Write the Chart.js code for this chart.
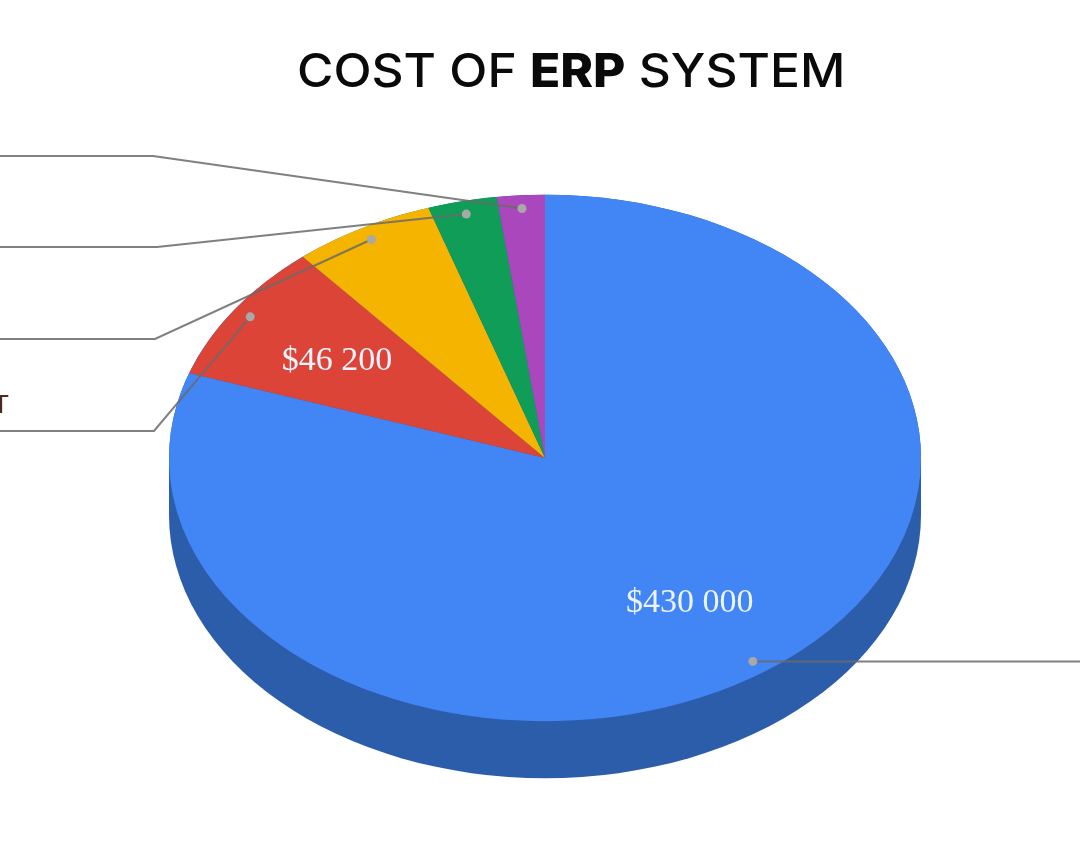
<!DOCTYPE html>
<html lang="en">

<head>
  <meta charset="UTF-8">
  <title>Cost of ERP system</title>
  <style>
    html, body { margin: 0; background: #fff; }
    #wrap { position: relative; width: 1080px; height: 863px; overflow: hidden; }
    #title {
      position: absolute; left: 297px; top: 41px; margin: 0;
      white-space: pre; transform: scaleX(1.08); transform-origin: left top;
      font: 500 46px Inter, sans-serif; line-height: 58px; color: #0a0a0a;
    }
    #title b { font-weight: 800; }
    canvas { position: absolute; left: 0; top: 0; }
  </style>
</head>

<body>
  <div id="wrap">
    <canvas id="pie" width="1080" height="863"></canvas>
    <h1 id="title">COST OF <b>ERP</b> SYSTEM</h1>
  </div>

  <script src="https://cdn.jsdelivr.net/npm/chart.js"></script>
  <script>
    // values, only the first two are printed there
    const costs = [430000, 46200, 32800, 15900, 11000];
    const valueLabels = ["$430 000", "$46 200", "", "", ""];
    const sliceColors = ["#4285f4", "#db4437", "#f4b400", "#0f9d58", "#ab47bc"];

    const tilt = 0.7;      // pie is squashed to look 3d
    const depth = 57;
    const sideColor = "#2c5dab";

    // where each leader line leaves the slice, in slice order
    const leaderEnds = [[1080, 661.5], [154, 431], [155, 339], [157, 247], [153, 156]];
    const leaderEdges = [1080, 0, 0, 0, 0];

    function sliceAnchor(arc, frac) {
      const p = arc.getProps(["x", "y", "startAngle", "endAngle", "outerRadius"], true);
      const mid = (p.startAngle + p.endAngle) / 2;
      return {
        x: p.x + Math.cos(mid) * p.outerRadius * frac,
        y: p.y + Math.sin(mid) * p.outerRadius * frac * tilt
      };
    }

    const tiltedPie = {
      id: "tiltedPie",
      beforeDatasetsDraw(chart) {
        const ctx = chart.ctx;
        const arcs = chart.getDatasetMeta(0).data;
        const cx = arcs[0].x, cy = arcs[0].y;
        ctx.save();
        ctx.translate(cx, cy);
        ctx.scale(1, tilt);
        ctx.translate(-cx, -cy);
        // side wall: lower half of the disc, pushed down
        const r = arcs[0].outerRadius;
        const d = depth / tilt;
        ctx.fillStyle = sideColor;
        ctx.beginPath();
        ctx.arc(cx, cy + d, r, 0, Math.PI);
        ctx.arc(cx, cy, r, Math.PI, 0);
        ctx.closePath();
        ctx.fill();
      },
      afterDatasetsDraw(chart) {
        const ctx = chart.ctx;
        ctx.restore();
        const arcs = chart.getDatasetMeta(0).data;

        arcs.forEach((arc, i) => {
          const dot = sliceAnchor(arc, 0.95);
          ctx.save();
          ctx.globalAlpha = 0.85;
          ctx.strokeStyle = "#6a6a6a";
          ctx.lineWidth = 2;
          ctx.beginPath();
          ctx.moveTo(leaderEdges[i], leaderEnds[i][1]);
          ctx.lineTo(leaderEnds[i][0], leaderEnds[i][1]);
          ctx.lineTo(dot.x, dot.y);
          ctx.stroke();
          ctx.globalAlpha = 1;
          ctx.fillStyle = "#a8a8a8";
          ctx.beginPath();
          ctx.arc(dot.x, dot.y, 4.5, 0, Math.PI * 2);
          ctx.fill();
          ctx.restore();
        });

        ctx.save();
        ctx.font = "34px 'Liberation Serif', serif";
        ctx.fillStyle = "#eef4ff";
        ctx.textAlign = "center";
        ctx.textBaseline = "middle";
        arcs.forEach((arc, i) => {
          if (!valueLabels[i]) return;
          const pos = sliceAnchor(arc, 2 / 3);
          ctx.fillText(valueLabels[i], pos.x - 1, pos.y + 2);
        });

        // what is left of a label cut off by the picture edge
        ctx.font = "26px 'Liberation Sans', sans-serif";
        ctx.fillStyle = "#4a2a20";
        ctx.textAlign = "right";
        ctx.textBaseline = "alphabetic";
        ctx.fillText("T", 9, 413);
        ctx.restore();
      }
    };

    new Chart(document.getElementById("pie"), {
      type: "pie",
      data: {
        labels: valueLabels,
        datasets: [{
          data: costs,
          backgroundColor: sliceColors,
          borderWidth: 0
        }]
      },
      options: {
        responsive: false,
        animation: false,
        layout: { padding: { left: 169, right: 159, top: 82, bottom: 29 } },
        plugins: {
          legend: { display: false },
          tooltip: { enabled: false }
        }
      },
      plugins: [tiltedPie]
    });
  </script>
</body>

</html>
